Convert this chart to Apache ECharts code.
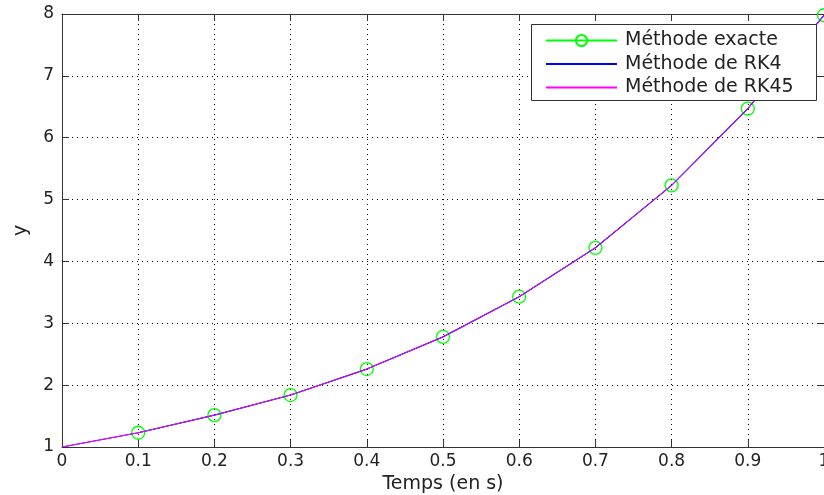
<!DOCTYPE html>
<html>
<head>
<meta charset="utf-8">
<script src="https://cdn.jsdelivr.net/npm/echarts@6/dist/echarts.min.js"></script>
<style>html,body{margin:0;padding:0;background:#fff;overflow:hidden}#c{width:824px;height:495px}</style>
</head>
<body>
<div id="c"></div>
<script>
// Data
const tExact = [0.1, 0.2, 0.3, 0.4, 0.5, 0.6, 0.7, 0.8, 0.9, 1.0];
const yExact = [1.23, 1.515, 1.84, 2.26, 2.78, 3.43, 4.22, 5.23, 6.47, 7.98];
const tRK4 = [0, 0.1, 0.2, 0.3, 0.4, 0.5, 0.6, 0.7, 0.8, 0.9, 1.0];
const yRK4 = [1, 1.23, 1.515, 1.84, 2.26, 2.78, 3.43, 4.22, 5.23, 6.47, 7.98];
const tRK45 = [0, 0.1, 0.2, 0.3, 0.4, 0.5, 0.6, 0.7, 0.8, 0.9, 1.0];
const yRK45 = [1, 1.23, 1.515, 1.84, 2.26, 2.78, 3.43, 4.22, 5.23, 6.47, 7.98];
const seriesNames = ['Méthode exacte', 'Méthode de RK4', 'Méthode de RK45'];
const xTicks = { min: 0, max: 1, interval: 0.1 };
const yTicks = { min: 1, max: 8, interval: 1 };

const pair = (xs, ys) => xs.map((x, i) => [x, ys[i]]);
const FONT = 'DejaVu Sans';
const TXT = '#222';
const gridLine = { show: true, lineStyle: { color: '#000', type: [1, 4], width: 1 } };
const axLine = { show: true, onZero: false, lineStyle: { color: '#333', width: 1 } };
const tick = { show: true, inside: true, length: 7, lineStyle: { color: '#333' } };

const chart = echarts.init(document.getElementById('c'), null, { renderer: 'canvas' });
chart.setOption({
  animation: false,
  backgroundColor: '#fff',
  textStyle: { fontFamily: FONT },
  grid: { left: 62, top: 14, width: 762, height: 433, containLabel: false, outerBoundsMode: 'none' },
  xAxis: [{
    type: 'value', min: xTicks.min, max: xTicks.max, interval: xTicks.interval,
    name: 'Temps (en s)', nameLocation: 'middle', nameGap: 28,
    nameTextStyle: { fontFamily: FONT, fontSize: 19, color: TXT },
    axisLine: axLine, axisTick: tick, splitLine: gridLine,
    axisLabel: { fontFamily: FONT, fontSize: 17, color: TXT, margin: 6,
      formatter: v => String(+v.toFixed(1)) }
  }, {
    type: 'value', position: 'top', min: xTicks.min, max: xTicks.max, interval: xTicks.interval,
    axisLine: axLine, axisTick: tick, splitLine: { show: false }, axisLabel: { show: false }
  }],
  yAxis: [{
    type: 'value', min: yTicks.min, max: yTicks.max, interval: yTicks.interval,
    name: 'y', nameLocation: 'middle', nameGap: 31, nameRotate: 90,
    nameTextStyle: { fontFamily: FONT, fontSize: 19, color: TXT },
    axisLine: axLine, axisTick: tick, splitLine: gridLine,
    axisLabel: { fontFamily: FONT, fontSize: 17, color: TXT, margin: 8 }
  }, {
    type: 'value', position: 'right', min: yTicks.min, max: yTicks.max, interval: yTicks.interval,
    axisLine: axLine, axisTick: tick, splitLine: { show: false }, axisLabel: { show: false }
  }],
  graphic: [{
    type: 'rect', z: 10, zlevel: 0,
    shape: { x: 531.5, y: 24.5, width: 285, height: 76 },
    style: { fill: '#fff', stroke: '#333', lineWidth: 1 }
  }],
  legend: {
    z: 20, orient: 'vertical', left: 545, top: 31, padding: 0,
    itemWidth: 71, itemHeight: 14, itemGap: 4.5,
    textStyle: { fontFamily: FONT, fontSize: 19, color: TXT, padding: [0, 0, 0, 3] },
    data: [
      { name: seriesNames[0] },
      { name: seriesNames[1], itemStyle: { opacity: 0 } },
      { name: seriesNames[2], itemStyle: { opacity: 0 } }
    ]
  },
  series: [{
    name: seriesNames[0], type: 'line', data: pair(tExact, yExact),
    symbol: 'circle', symbolSize: 13, showSymbol: true,
    lineStyle: { color: '#00ff00', width: 1 },
    itemStyle: { color: 'rgba(0,0,0,0)', borderColor: '#00ff00', borderWidth: 1.3 },
    z: 2
  }, {
    name: seriesNames[1], type: 'line', data: pair(tRK4, yRK4),
    symbol: 'none', lineStyle: { color: '#0000ff', width: 1.2 },
    itemStyle: { color: '#0000ff' }, z: 3
  }, {
    name: seriesNames[2], type: 'line', data: pair(tRK45, yRK45),
    symbol: 'none', lineStyle: { color: '#ff00ff', width: 1 },
    itemStyle: { color: '#ff00ff' }, z: 4
  }]
});
</script>
</body>
</html>
